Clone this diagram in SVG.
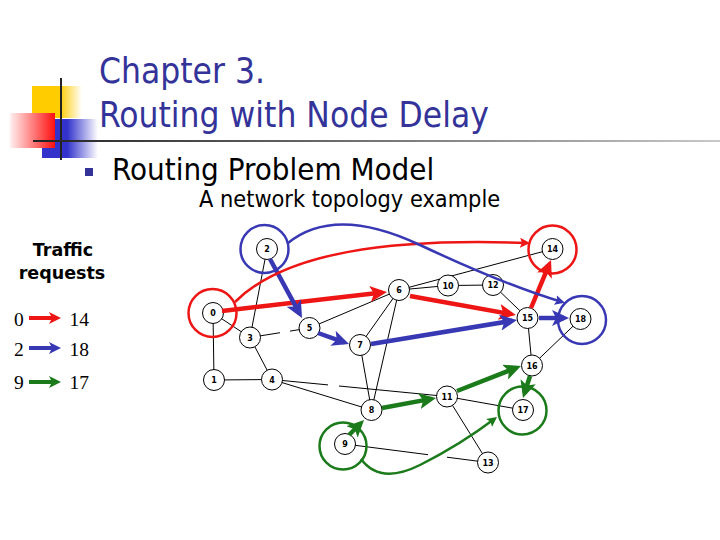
<svg xmlns="http://www.w3.org/2000/svg" width="720" height="540" viewBox="0 0 720 540">
<style>
.title{font-family:"DejaVu Sans Condensed","DejaVu Sans",sans-serif;fill:#333399;font-size:35px}
.sub{font-family:"DejaVu Sans Condensed","DejaVu Sans",sans-serif;fill:#000}
.leg{font-family:"Liberation Serif",serif;font-size:19.5px;fill:#000}
.legh{font-family:"DejaVu Sans",sans-serif;font-weight:bold;font-size:17.5px;fill:#000}
.edge{stroke:#000;stroke-width:1;fill:none}
.node circle{fill:#fff;stroke:#000;stroke-width:1}
.node text{font-family:"DejaVu Sans",sans-serif;font-weight:bold;font-size:8px;text-anchor:middle;fill:#000}
.ring{fill:none;stroke-width:2.5}
.r{stroke:#EE1515}
.b{stroke:#3838B4}
.g{stroke:#1B7B1B}
.thick{stroke-width:4.5;fill:none}
.thin{stroke-width:2.5;fill:none}
</style>
<defs>
<linearGradient id="gy" x1="0" y1="0" x2="1" y2="0"><stop offset="0" stop-color="#FFCC00"/><stop offset="0.55" stop-color="#FFCC00"/><stop offset="1" stop-color="#FFCC00" stop-opacity="0"/></linearGradient>
<linearGradient id="gr" x1="0" y1="0" x2="1" y2="0"><stop offset="0" stop-color="#FFF0F0"/><stop offset="1" stop-color="#FF1010"/></linearGradient>
<linearGradient id="gb" x1="0" y1="0" x2="1" y2="0"><stop offset="0" stop-color="#3333CC"/><stop offset="0.45" stop-color="#3333CC"/><stop offset="1" stop-color="#3333CC" stop-opacity="0"/></linearGradient>
<linearGradient id="gl" gradientUnits="userSpaceOnUse" x1="33" y1="0" x2="720" y2="0"><stop offset="0" stop-color="#222"/><stop offset="1" stop-color="#c8c8c8"/></linearGradient>
<marker id="hR" markerUnits="userSpaceOnUse" markerWidth="18" markerHeight="16" refX="12" refY="8" orient="auto"><path d="M0,0 L17,8 L0,16 L4,8 z" fill="#EE1515"/></marker>
<marker id="hB" markerUnits="userSpaceOnUse" markerWidth="18" markerHeight="16" refX="12" refY="8" orient="auto"><path d="M0,0 L17,8 L0,16 L4,8 z" fill="#3838B4"/></marker>
<marker id="hG" markerUnits="userSpaceOnUse" markerWidth="18" markerHeight="16" refX="12" refY="8" orient="auto"><path d="M0,0 L17,8 L0,16 L4,8 z" fill="#1B7B1B"/></marker>
<marker id="sR" markerUnits="userSpaceOnUse" markerWidth="11" markerHeight="10" refX="7" refY="5" orient="auto"><path d="M0,0 L10,5 L0,10 L2,5 z" fill="#EE1515"/></marker>
<marker id="sB" markerUnits="userSpaceOnUse" markerWidth="11" markerHeight="10" refX="7" refY="5" orient="auto"><path d="M0,0 L10,5 L0,10 L2,5 z" fill="#3838B4"/></marker>
<marker id="sG" markerUnits="userSpaceOnUse" markerWidth="11" markerHeight="10" refX="7" refY="5" orient="auto"><path d="M0,0 L10,5 L0,10 L2,5 z" fill="#1B7B1B"/></marker>
<marker id="lR" markerUnits="userSpaceOnUse" markerWidth="13" markerHeight="12" refX="8" refY="6" orient="auto"><path d="M0,0 L12,6 L0,12 L3,6 z" fill="#EE1515"/></marker>
<marker id="lB" markerUnits="userSpaceOnUse" markerWidth="13" markerHeight="12" refX="8" refY="6" orient="auto"><path d="M0,0 L12,6 L0,12 L3,6 z" fill="#3838B4"/></marker>
<marker id="lG" markerUnits="userSpaceOnUse" markerWidth="13" markerHeight="12" refX="8" refY="6" orient="auto"><path d="M0,0 L12,6 L0,12 L3,6 z" fill="#1B7B1B"/></marker>
</defs>
<rect width="720" height="540" fill="#fff"/>
<g id="decor">
<rect x="32" y="86" width="50" height="32" fill="url(#gy)"/>
<rect x="42" y="119" width="56" height="39" fill="url(#gb)"/>
<rect x="10" y="113" width="45" height="35" fill="url(#gr)"/>
<line x1="61" y1="78" x2="61" y2="160" stroke="#222" stroke-width="2"/>
<line x1="33" y1="141" x2="720" y2="141" stroke="url(#gl)" stroke-width="2"/>
<rect x="85" y="168" width="8" height="8" fill="#333399"/>
</g>
<text class="title" x="99" y="83">Chapter 3.</text>
<text class="title" x="99" y="127">Routing with Node Delay</text>
<text class="sub" x="112" y="180" font-size="31">Routing Problem Model</text>
<text class="sub" x="199" y="207" font-size="23.3">A network topology example</text>
<g id="legend">
<text class="legh" x="63" y="256" text-anchor="middle">Traffic</text>
<text class="legh" x="62" y="279" text-anchor="middle">requests</text>
<text class="leg" x="14" y="326">0</text>
<line x1="29" y1="318" x2="57" y2="318" stroke="#EE1515" stroke-width="4" marker-end="url(#lR)"/>
<text class="leg" x="69.5" y="326">14</text>
<text class="leg" x="14" y="356">2</text>
<line x1="29" y1="348" x2="57" y2="348" stroke="#3838B4" stroke-width="4" marker-end="url(#lB)"/>
<text class="leg" x="69.5" y="356">18</text>
<text class="leg" x="14" y="389">9</text>
<line x1="29" y1="382" x2="57" y2="382" stroke="#1B7B1B" stroke-width="4" marker-end="url(#lG)"/>
<text class="leg" x="69.5" y="389">17</text>
</g>
<g id="connectors">
<path class="edge" d="M213,313 L214,380"/>
<path class="edge" d="M213,313 L250,337.5"/>
<path class="edge" d="M267,249 L250,337.5"/>
<path class="edge" d="M250,337.5 L272,379.5"/>
<path class="edge" d="M214,380 L272,379.5"/>
<path class="edge" d="M250,337.5 L280,332.7 M290,331.1 L309.5,328"/>
<path class="edge" d="M272,379.5 L328,384.9 M339,386 L447,396.5"/>
<path class="edge" d="M272,379.5 L371.5,410"/>
<path class="edge" d="M309.5,328 L399,290"/>
<path class="edge" d="M399,290 L360,345"/>
<path class="edge" d="M399,290 L371.5,410"/>
<path class="edge" d="M360,345 L371.5,410"/>
<path class="edge" d="M399,290 L448,285.5"/>
<path class="edge" d="M448,285.5 L493,285"/>
<path class="edge" d="M399,290 L552.5,249"/>
<path class="edge" d="M493,285 L527.5,318"/>
<path class="edge" d="M527.5,318 L532,365.5"/>
<path class="edge" d="M532,365.5 L580.5,319"/>
<path class="edge" d="M447,396.5 L523,410"/>
<path class="edge" d="M447,396.5 L488,462.5"/>
<path class="edge" d="M345,444 L428,454.7 M447,457.2 L488,462.5"/>
</g>
<g id="n0" class="node"><circle cx="213" cy="313" r="10.5"/><text x="213" y="316">0</text></g>
<g id="n1" class="node"><circle cx="214" cy="380" r="10.5"/><text x="214" y="383">1</text></g>
<g id="n2" class="node"><circle cx="267" cy="249" r="10.5"/><text x="267" y="252">2</text></g>
<g id="n3" class="node"><circle cx="250" cy="337.5" r="10.5"/><text x="250" y="340.5">3</text></g>
<g id="n4" class="node"><circle cx="272" cy="379.5" r="10.5"/><text x="272" y="382.5">4</text></g>
<g id="n5" class="node"><circle cx="309.5" cy="328" r="10.5"/><text x="309.5" y="331">5</text></g>
<g id="n6" class="node"><circle cx="399" cy="290" r="10.5"/><text x="399" y="293">6</text></g>
<g id="n7" class="node"><circle cx="360" cy="345" r="10.5"/><text x="360" y="348">7</text></g>
<g id="n8" class="node"><circle cx="371.5" cy="410" r="10.5"/><text x="371.5" y="413">8</text></g>
<g id="n9" class="node"><circle cx="345" cy="444" r="10.5"/><text x="345" y="447">9</text></g>
<g id="n10" class="node"><circle cx="448" cy="285.5" r="10.5"/><text x="448" y="288.5">10</text></g>
<g id="n11" class="node"><circle cx="447" cy="396.5" r="10.5"/><text x="447" y="399.5">11</text></g>
<g id="n12" class="node"><circle cx="493" cy="285" r="10.5"/><text x="493" y="288">12</text></g>
<g id="n13" class="node"><circle cx="488" cy="462.5" r="10.5"/><text x="488" y="465.5">13</text></g>
<g id="n14" class="node"><circle cx="552.5" cy="249" r="10.5"/><text x="552.5" y="252">14</text></g>
<g id="n15" class="node"><circle cx="527.5" cy="318" r="10.5"/><text x="527.5" y="321">15</text></g>
<g id="n16" class="node"><circle cx="532" cy="365.5" r="10.5"/><text x="532" y="368.5">16</text></g>
<g id="n17" class="node"><circle cx="523" cy="410" r="10.5"/><text x="523" y="413">17</text></g>
<g id="n18" class="node"><circle cx="580.5" cy="319" r="10.5"/><text x="580.5" y="322">18</text></g>
<g id="highlights">
<circle class="ring r" cx="212.5" cy="313" r="24"/>
<circle class="ring b" cx="264.5" cy="249" r="24"/>
<circle class="ring r" cx="552.5" cy="249.5" r="24"/>
<circle class="ring b" cx="582" cy="320" r="24"/>
<circle class="ring g" cx="522.5" cy="410.5" r="24"/>
<circle class="ring g" cx="343" cy="446" r="23.5"/>
</g>
<g id="routes">
<path class="thick r" d="M222,311 L382,292.6" marker-end="url(#hR)"/>
<path class="thick r" d="M410,296 L511,314.1" marker-end="url(#hR)"/>
<path class="thick r" d="M531,308 L549.1,264.6" marker-end="url(#hR)"/>
<path class="thick b" d="M270,259 L299.6,313.6" marker-end="url(#hB)"/>
<path class="thick b" d="M318,333 L344.3,342.3" marker-end="url(#hB)"/>
<path class="thick b" d="M371,344 L512.1,320.8" marker-end="url(#hB)"/>
<path class="thick b" d="M539,318 L564,318" marker-end="url(#hB)"/>
<path class="thick g" d="M349,435 L360.5,423.5" marker-end="url(#hG)"/>
<path class="thick g" d="M382,408 L431.1,398.9" marker-end="url(#hG)"/>
<path class="thick g" d="M457,391 L516.3,367.8" marker-end="url(#hG)"/>
<path class="thick g" d="M530,376 L524.5,393.2" marker-end="url(#hG)"/>
<path class="thin r" d="M235,302 C285,252 390,238 527,243" marker-end="url(#sR)"/>
<path class="thin b" d="M288,243 Q335,205 420,245 T562,302" marker-end="url(#sB)"/>
<path class="thin g" d="M361,459 Q380,485 420,465 T494.6,418.8" marker-end="url(#sG)"/>
</g>
</svg>
